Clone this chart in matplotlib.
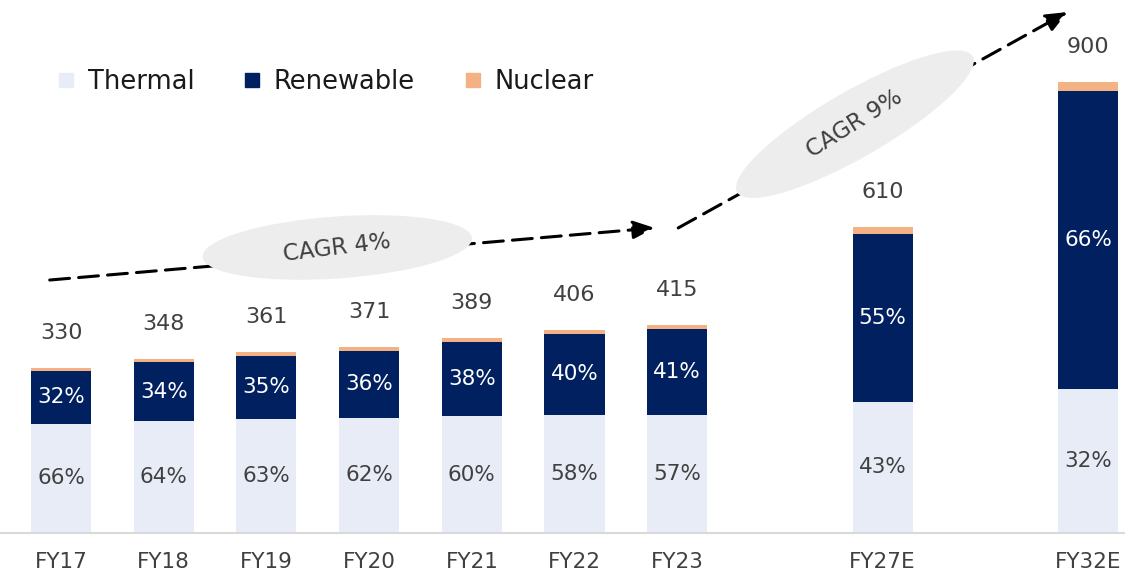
import matplotlib
matplotlib.use('Agg')
import matplotlib.pyplot as plt
import matplotlib.patches as patches
import matplotlib.transforms as transforms
from matplotlib.lines import Line2D

plt.rcParams['font.family'] = ['DejaVu Sans']

# Data
years = ['FY17', 'FY18', 'FY19', 'FY20', 'FY21', 'FY22', 'FY23', 'FY27E', 'FY32E']
positions = [0, 1, 2, 3, 4, 5, 6, 8, 10]
totals = [330, 348, 361, 371, 389, 406, 415, 610, 900]
thermal_pct = [66, 64, 63, 62, 60, 58, 57, 43, 32]
renew_pct = [32, 34, 35, 36, 38, 40, 41, 55, 66]
nuclear_pct = [100 - t - r for t, r in zip(thermal_pct, renew_pct)]

c_thermal = '#E8ECF7'
c_renew = '#002060'
c_nuclear = '#F4B183'
c_text = '#404040'

thermal = [tot * p / 100 for tot, p in zip(totals, thermal_pct)]
renew = [tot * p / 100 for tot, p in zip(totals, renew_pct)]
nuclear = [tot * p / 100 for tot, p in zip(totals, nuclear_pct)]
renew_base = thermal
nuc_base = [a + b for a, b in zip(thermal, renew)]

fig = plt.figure(figsize=(11.25, 5.74), dpi=100)
ax = fig.add_axes([0, 41 / 574, 1, 533 / 574])
ax.set_xlim(-0.594, 10.36)
ax.set_ylim(0, 1064)

w = 0.585
ax.bar(positions, thermal, w, color=c_thermal, zorder=2)
ax.bar(positions, renew, w, bottom=renew_base, color=c_renew, zorder=2)
ax.bar(positions, nuclear, w, bottom=nuc_base, color=c_nuclear, zorder=2)

for x, tot, t, r, tp, rp, rb in zip(positions, totals, thermal, renew, thermal_pct, renew_pct, renew_base):
    ax.text(x, t / 2, f'{tp}%', ha='center', va='center', fontsize=15.5, color=c_text, zorder=3)
    ax.text(x, rb + r / 2, f'{rp}%', ha='center', va='center', fontsize=15.5, color='white', zorder=3)
    ax.text(x, tot + 70, f'{tot}', ha='center', va='center', fontsize=16, color=c_text, zorder=3)

# axis styling
for s in ['top', 'right', 'left']:
    ax.spines[s].set_visible(False)
ax.spines['bottom'].set_color('#D9D9D9')
ax.spines['bottom'].set_linewidth(1.5)
ax.set_yticks([])
ax.set_xticks(positions)
ax.set_xticklabels(years, fontsize=15.5, color=c_text)
ax.tick_params(axis='x', length=0, pad=14)

# CAGR arrows
arrow_kw = dict(arrowstyle='-|>,head_length=1.3,head_width=0.55', color='black', lw=2.2,
                ls=(0, (6.5, 3)), shrinkA=0, shrinkB=0)
ax.annotate('', xy=(5.78, 609), xytext=(-0.11, 505), arrowprops=arrow_kw, zorder=4)
ax.annotate('', xy=(9.80, 1040), xytext=(6.01, 609), arrowprops=arrow_kw, zorder=4)


def bubble(xd, yd, wd, ht, ang, label, rot):
    tr = fig.dpi_scale_trans + transforms.ScaledTranslation(xd, yd, ax.transData)
    e = patches.Ellipse((0, 0), wd, ht, angle=ang, transform=tr, facecolor='#EDEDED',
                        edgecolor='none', zorder=5, clip_on=False)
    ax.add_patch(e)
    ax.text(xd, yd, label, ha='center', va='center', rotation=rot, rotation_mode='anchor',
            fontsize=16.5, color=c_text, zorder=6)


bubble(2.69, 570, 2.70, 0.62, 4, 'CAGR 4%', 7)
bubble(7.73, 816, 2.72, 0.66, 30, 'CAGR 9%', 32)

# legend
handles = [Line2D([], [], marker='s', ls='none', markersize=9.5, color=c) for c in (c_thermal, c_renew, c_nuclear)]
leg = ax.legend(handles, ['Thermal', 'Renewable', 'Nuclear'], loc='center left',
                bbox_to_anchor=(53 / 1125, 0.846), ncol=3, frameon=False, fontsize=18.5,
                handletextpad=0.35, columnspacing=1.75, handlelength=1.0,
                borderpad=0, borderaxespad=0)
for t in leg.get_texts():
    t.set_color('#1a1a1a')

fig.savefig('out.png', dpi=100)
